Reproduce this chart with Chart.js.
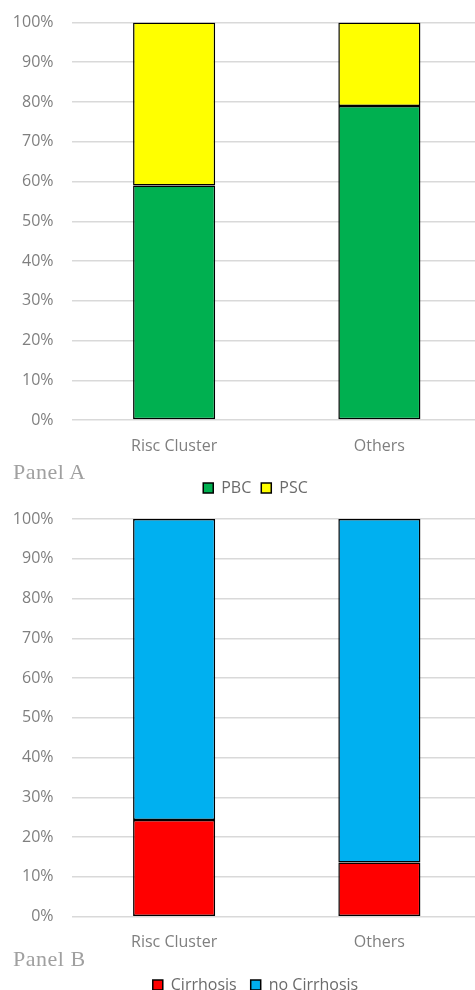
<!DOCTYPE html>
<html lang="en">
<head>
  <meta charset="UTF-8" />
  <title>Panel A / Panel B</title>
  <style>
    * { box-sizing: border-box; margin: 0; padding: 0; }
    body {
      background: #ffffff;
      width: 475px;
      height: 990px;
      overflow: hidden;
      position: relative;
      font-family: 'Open Sans', sans-serif;
    }
    .box { position: absolute; left: 0; width: 482px; }
    #boxA { top: 0; height: 506px; }
    #boxB { top: 500px; height: 503px; }
    .panel {
      position: absolute;
      left: 13px;
      font-family: 'Liberation Serif', serif;
      font-size: 22px;
      letter-spacing: 0.5px;
      color: #a0a0a0;
      line-height: 1;
    }
    #panelA { top: 461px; }
    #panelB { top: 948px; }
  </style>
</head>
<body>
  <div class="box" id="boxA"><canvas id="chartA"></canvas></div>
  <div class="box" id="boxB"><canvas id="chartB"></canvas></div>
  <div class="panel" id="panelA">Panel A</div>
  <div class="panel" id="panelB">Panel B</div>

  <script src="https://cdn.jsdelivr.net/npm/chart.js"></script>
  <script>
    // data (percent)
    const categories = ['Risc Cluster', 'Others'];
    const pbc = [59, 79];
    const psc = [41, 21];
    const cirrhosis = [24.3, 13.6];
    const noCirrhosis = [75.7, 86.4];

    const tickColor = '#7f7f7f';
    const gridColor = '#d9d9d9';

    // excel centres the legend a bit right of the canvas middle
    const shiftLegend = {
      id: 'shiftLegend',
      afterLayout(chart) {
        chart.legend.left += 9;
        chart.legend.right += 9;
      }
    };

    function makeChart(id, sets, lay) {
      return new Chart(document.getElementById(id), {
        type: 'bar',
        data: {
          labels: categories,
          datasets: sets.map(s => ({
            label: s.label,
            data: s.data,
            backgroundColor: s.color,
            borderColor: '#000000',
            borderWidth: 1.5,
            borderSkipped: false,
            categoryPercentage: 0.4,
            barPercentage: 1
          }))
        },
        plugins: [shiftLegend],
        options: {
          responsive: true,
          maintainAspectRatio: false,
          animation: false,
          layout: { padding: { left: 11, top: lay.top, right: 0, bottom: 0 } },
          plugins: {
            tooltip: { enabled: false },
            legend: {
              position: 'bottom',
              labels: {
                color: '#6b6b6b',
                font: { family: 'Open Sans', size: 16 },
                boxWidth: 10,
                boxHeight: 10,
                padding: lay.legPad
              }
            }
          },
          scales: {
            x: {
              stacked: true,
              grid: { display: false },
              border: { display: false },
              ticks: { color: tickColor, font: { family: 'Open Sans', size: 16 }, padding: lay.tickPad },
              afterFit: s => { s.height = lay.xHeight; }
            },
            y: {
              stacked: true,
              min: 0,
              max: 100,
              border: { display: false },
              grid: { color: gridColor, lineWidth: 1.5, drawTicks: true, tickLength: 13, tickColor: 'rgba(0,0,0,0)' },
              ticks: {
                stepSize: 10,
                color: tickColor,
                font: { family: 'Open Sans', size: 16 },
                padding: 5,
                callback: v => v + '%'
              },
              afterFit: s => { s.width = 60.5; }
            }
          }
        }
      });
    }

    makeChart('chartA', [
      { label: 'PBC', data: pbc, color: '#00b050' },
      { label: 'PSC', data: psc, color: '#ffff00' }
    ], { top: 22.5, xHeight: 50, tickPad: 9, legPad: 10 });

    makeChart('chartB', [
      { label: 'Cirrhosis', data: cirrhosis, color: '#ff0000' },
      { label: 'no Cirrhosis', data: noCirrhosis, color: '#00b0f0' }
    ], { top: 19, xHeight: 46.3, tickPad: 8, legPad: 14 });
  </script>
</body>
</html>
